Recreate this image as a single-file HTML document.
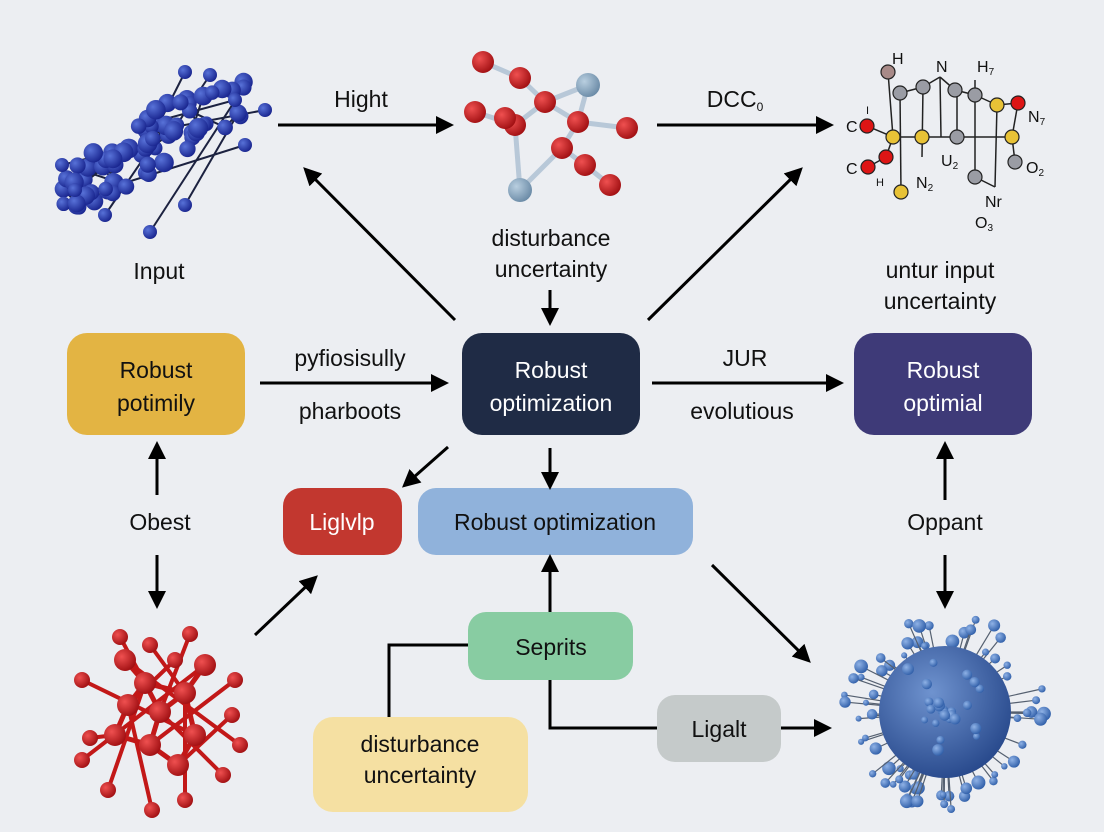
<!DOCTYPE html>
<html><head><meta charset="utf-8"><style>
html,body{margin:0;padding:0;background:#eceef2;}
svg{display:block;font-family:"Liberation Sans",sans-serif;}
</style></head><body>
<svg id="s" width="1104" height="832" viewBox="0 0 1104 832" xmlns="http://www.w3.org/2000/svg">
<defs>
<marker id="ahb" markerWidth="18" markerHeight="18" refX="14" refY="9" orient="auto" markerUnits="userSpaceOnUse" viewBox="0 0 18 18"><path d="M0,0 L18,9 L0,18 z" fill="#000"/></marker>
<radialGradient id="gb" cx="35%" cy="35%" r="70%"><stop offset="0" stop-color="#5872d8"/><stop offset="1" stop-color="#18248e"/></radialGradient>
<radialGradient id="gr" cx="35%" cy="35%" r="70%"><stop offset="0" stop-color="#ef5050"/><stop offset="1" stop-color="#a00f12"/></radialGradient>
<radialGradient id="gs" cx="35%" cy="35%" r="70%"><stop offset="0" stop-color="#b9cfe0"/><stop offset="1" stop-color="#6a8aa6"/></radialGradient>
<radialGradient id="gsp" cx="40%" cy="35%" r="70%"><stop offset="0" stop-color="#6f93cf"/><stop offset="1" stop-color="#26478a"/></radialGradient>
<radialGradient id="gsa" cx="35%" cy="35%" r="70%"><stop offset="0" stop-color="#8fb2e6"/><stop offset="1" stop-color="#2f5ea8"/></radialGradient>
</defs>
<rect width="1104" height="832" fill="#eceef2"/>
<g id="mol"></g>

<rect x="67" y="333" width="178" height="102" rx="20" fill="#e3b443"/>
<rect x="462" y="333" width="178" height="102" rx="20" fill="#1f2b45"/>
<rect x="854" y="333" width="178" height="102" rx="20" fill="#3e3a78"/>
<rect x="283" y="488" width="119" height="67" rx="18" fill="#c2372f"/>
<rect x="418" y="488" width="275" height="67" rx="18" fill="#90b2db"/>
<rect x="468" y="612" width="165" height="68" rx="18" fill="#88cca2"/>
<rect x="313" y="717" width="215" height="95" rx="20" fill="#f5e0a2"/>
<rect x="657" y="695" width="124" height="67" rx="18" fill="#c5caca"/>

<g font-size="23" text-anchor="middle" fill="#111">
<text x="156" y="378">Robust</text><text x="156" y="411">potimily</text>
<text x="551" y="378" fill="#fff">Robust</text><text x="551" y="411" fill="#fff">optimization</text>
<text x="943" y="378" fill="#fff">Robust</text><text x="943" y="411" fill="#fff">optimial</text>
<text x="342" y="530" fill="#fff">Liglvlp</text>
<text x="555" y="530">Robust optimization</text>
<text x="551" y="655">Seprits</text>
<text x="420" y="752">disturbance</text><text x="420" y="783">uncertainty</text>
<text x="719" y="737">Ligalt</text>
<text x="361" y="107">Hight</text>
<text x="735" y="107">DCC<tspan font-size="12" dy="4">0</tspan></text>
<text x="159" y="279">Input</text>
<text x="551" y="246">disturbance</text><text x="551" y="277">uncertainty</text>
<text x="940" y="278">untur input</text><text x="940" y="309">uncertainty</text>
<text x="350" y="366">pyfiosisully</text><text x="350" y="419">pharboots</text>
<text x="745" y="366">JUR</text><text x="742" y="419">evolutious</text>
<text x="160" y="530">Obest</text>
<text x="945" y="530">Oppant</text>
</g>

<g stroke="#000" stroke-width="3" fill="none">
<line x1="278" y1="125" x2="450" y2="125" marker-end="url(#ahb)"/>
<line x1="657" y1="125" x2="830" y2="125" marker-end="url(#ahb)"/>
<line x1="455" y1="320" x2="306" y2="170" marker-end="url(#ahb)"/>
<line x1="648" y1="320" x2="800" y2="170" marker-end="url(#ahb)"/>
<line x1="550" y1="290" x2="550" y2="322" marker-end="url(#ahb)"/>
<line x1="260" y1="383" x2="445" y2="383" marker-end="url(#ahb)"/>
<line x1="652" y1="383" x2="840" y2="383" marker-end="url(#ahb)"/>
<line x1="448" y1="447" x2="405" y2="485" marker-end="url(#ahb)"/>
<line x1="550" y1="448" x2="550" y2="486" marker-end="url(#ahb)"/>
<line x1="157" y1="495" x2="157" y2="445" marker-end="url(#ahb)"/>
<line x1="157" y1="555" x2="157" y2="605" marker-end="url(#ahb)"/>
<line x1="945" y1="500" x2="945" y2="445" marker-end="url(#ahb)"/>
<line x1="945" y1="555" x2="945" y2="605" marker-end="url(#ahb)"/>
<line x1="255" y1="635" x2="315" y2="578" marker-end="url(#ahb)"/>
<line x1="550" y1="612" x2="550" y2="558" marker-end="url(#ahb)"/>
<line x1="712" y1="565" x2="808" y2="660" marker-end="url(#ahb)"/>
<polyline points="468,645 389,645 389,717"/>
<polyline points="550,680 550,728 657,728"/>
<line x1="781" y1="728" x2="828" y2="728" marker-end="url(#ahb)"/>
</g>
</svg>
<script>
(function(){
var g=document.getElementById('mol'),h='';
function L(a,b,c,d,col,w){h+='<line x1="'+a+'" y1="'+b+'" x2="'+c+'" y2="'+d+'" stroke="'+col+'" stroke-width="'+(w||2)+'"/>';}
function C(x,y,r,f,s){h+='<circle cx="'+x+'" cy="'+y+'" r="'+r+'" fill="'+f+'"'+(s?' stroke="#222" stroke-width="1.2"':'')+'/>';}
var seed=7;function R(){seed=(seed*9301+49297)%233280;return seed/233280;}
var pts=[];
for(var i=0;i<75;i++){var t=R();var cx=62+t*190,cy=195-t*105+(R()-0.5)*75*(1-Math.abs(t-0.5));pts.push([cx,cy]);}
for(i=0;i<pts.length;i++){var p=pts[i];var q=pts[Math.floor(R()*pts.length)];if(Math.hypot(p[0]-q[0],p[1]-q[1])<40)L(p[0],p[1],q[0],q[1],'#1c2240',2);}
var tips=[[105,215],[150,232],[185,205],[210,75],[185,72],[265,110],[245,145],[62,165],[75,190],[235,100]];
tips.forEach(function(p){var q=pts[Math.floor(R()*pts.length)];L(p[0],p[1],q[0],q[1],'#1c2240',2);});
for(i=0;i<pts.length;i++)C(pts[i][0],pts[i][1],7+R()*3,'url(#gb)');
tips.forEach(function(p){C(p[0],p[1],7,'url(#gb)');});
var ra=[[483,62],[520,78],[475,112],[515,125],[545,102],[578,122],[627,128],[562,148],[585,165],[610,185],[505,118]],sa=[[588,85],[520,190]];
var bonds=[[0,1],[1,4],[2,3],[3,4],[4,5],[5,7],[7,8],[8,9],[5,6]];
bonds.forEach(function(b){L(ra[b[0]][0],ra[b[0]][1],ra[b[1]][0],ra[b[1]][1],'#b8c8d8',5);});
L(545,102,588,85,'#b8c8d8',5);L(588,85,578,122,'#b8c8d8',5);L(520,190,562,148,'#b8c8d8',5);L(520,190,515,125,'#b8c8d8',5);
sa.forEach(function(p){C(p[0],p[1],12,'url(#gs)');});
ra.forEach(function(p){C(p[0],p[1],11,'url(#gr)');});
L(888,72,893,137,'#222',1.5);L(900,93,901,192,'#222',1.5);L(923,87,922,157,'#222',1.5);L(940,77,941,137,'#222',1.5);
L(900,93,923,87,'#222',1.5);L(923,87,940,77,'#222',1.5);L(940,77,955,90,'#222',1.5);L(955,90,975,95,'#222',1.5);
L(957,90,957,137,'#222',1.5);L(975,80,975,177,'#222',1.5);L(975,95,997,105,'#222',1.5);L(997,105,1018,103,'#222',1.5);
L(893,137,1012,137,'#222',1.5);L(1018,103,1012,137,'#222',1.5);L(1012,137,1015,162,'#222',1.5);L(997,105,995,187,'#222',1.5);L(975,177,995,187,'#222',1.5);
L(867,126,893,137,'#222',1.5);L(893,137,886,157,'#222',1.5);L(886,157,868,167,'#222',1.5);
C(888,72,7,'#a88a88',1);
[[900,93],[923,87],[955,90],[975,95],[957,137],[975,177],[1015,162]].forEach(function(p){C(p[0],p[1],7,'#9a9ca4',1);});
[[997,105],[893,137],[922,137],[1012,137],[901,192]].forEach(function(p){C(p[0],p[1],7,'#e8c236',1);});
[[1018,103],[867,126],[886,157],[868,167]].forEach(function(p){C(p[0],p[1],7,'#dd1515',1);});
h+='<g font-size="16" fill="#111" font-family="Liberation Sans,sans-serif"><text x="892" y="64">H</text><text x="936" y="72">N</text><text x="977" y="72">H<tspan font-size="10" dy="3">7</tspan></text><text x="846" y="132">C</text><text x="846" y="174">C</text><text x="876" y="186" font-size="11">H</text><text x="916" y="188">N<tspan font-size="10" dy="3">2</tspan></text><text x="941" y="166">U<tspan font-size="10" dy="3">2</tspan></text><text x="1028" y="122">N<tspan font-size="10" dy="3">7</tspan></text><text x="1026" y="173">O<tspan font-size="10" dy="3">2</tspan></text><text x="985" y="207">Nr</text><text x="975" y="228">O<tspan font-size="10" dy="3">3</tspan></text><text x="866" y="114" font-size="11">I</text></g>';
var rp=[[145,683],[185,693],[160,712],[128,705],[195,735],[150,745],[178,765],[115,735],[205,665],[125,660]];
var rb=[[0,1],[0,3],[0,2],[1,2],[2,5],[1,4],[4,6],[5,6],[3,7],[5,7],[0,9],[1,8]];
rb.forEach(function(b){L(rp[b[0]][0],rp[b[0]][1],rp[b[1]][0],rp[b[1]][1],'#c21818',5);});
var rt=[[120,637],[150,645],[190,634],[175,660],[82,680],[235,680],[232,715],[90,738],[82,760],[240,745],[108,790],[185,800],[223,775],[152,810]];
rt.forEach(function(p,k){var q=rp[k%rp.length];L(p[0],p[1],q[0],q[1],'#c21818',4);});
rt.forEach(function(p){C(p[0],p[1],8,'url(#gr)');});
rp.forEach(function(p){C(p[0],p[1],11,'url(#gr)');});
var cx=945,cy=712;
for(i=0;i<70;i++){var a=R()*Math.PI*2,rr=72+R()*32;var x=cx+Math.cos(a)*rr,y=cy+Math.sin(a)*rr*0.95;L(cx+Math.cos(a)*55,cy+Math.sin(a)*55,x,y,'#556070',1.2);C(x,y,3+R()*4,'url(#gsa)');}
C(cx,cy,66,'url(#gsp)');
for(i=0;i<25;i++){var a2=R()*Math.PI*2,r2=R()*58;C(cx+Math.cos(a2)*r2,cy+Math.sin(a2)*r2,3+R()*3,'url(#gsa)');}
g.innerHTML=h;
})();
</script>
</body></html>
